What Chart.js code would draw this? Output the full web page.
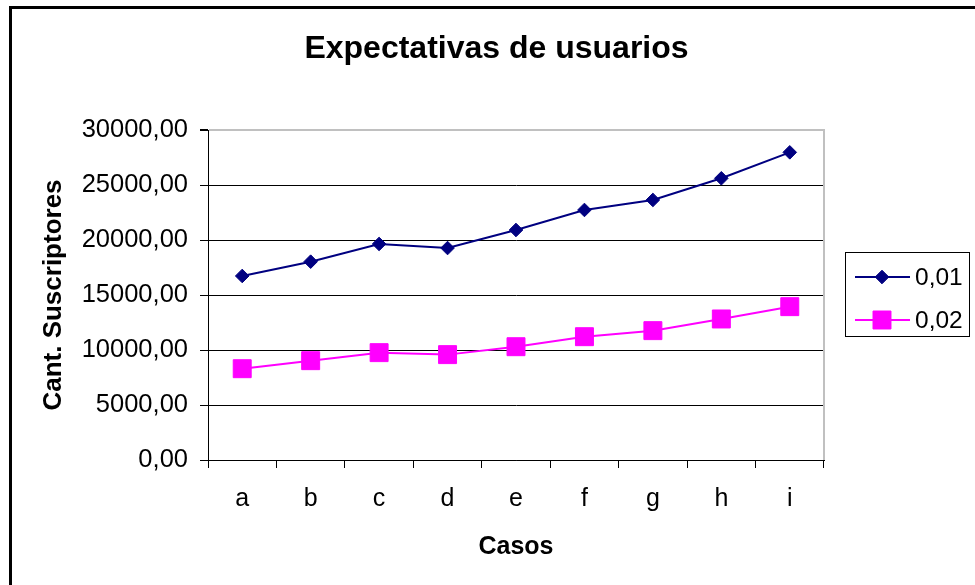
<!DOCTYPE html>
<html><head><meta charset="utf-8">
<script src="https://cdn.jsdelivr.net/npm/chart.js@4.4.0/dist/chart.umd.min.js"></script>
<style>html,body{margin:0;padding:0;background:#fff}#wrap{width:975px;height:585px}</style>
</head><body><div id="wrap"><canvas id="c" width="975" height="585"></canvas></div>
<script>
const chartTitle = 'Expectativas de usuarios';
const xTitle = 'Casos';
const yTitle = 'Cant. Suscriptores';
const categories = ['a','b','c','d','e','f','g','h','i'];
const seriesNames = ['0,01','0,02'];
const series1 = [16730, 18030, 19640, 19270, 20910, 22730, 23640, 25610, 27970];
const series2 = [8300, 9030, 9760, 9580, 10300, 11210, 11760, 12820, 13940];
const yMin = 0, yMax = 30000, yStep = 5000;

const FONT = "'Liberation Sans', Arial, sans-serif";
Chart.defaults.font.family = FONT;
Chart.defaults.color = '#000';

const fmt = v => Number(v).toFixed(2).replace('.', ',');

function drawMarker(ctx, style, x, y, r, color){
  ctx.save();
  ctx.fillStyle = color; ctx.strokeStyle = color; ctx.lineWidth = 1;
  ctx.beginPath();
  if (style === 'rectRot'){
    ctx.moveTo(x - r, y); ctx.lineTo(x, y - r); ctx.lineTo(x + r, y); ctx.lineTo(x, y + r); ctx.closePath();
  } else {
    const s = r * Math.SQRT1_2;
    ctx.rect(x - s, y - s, 2 * s, 2 * s);
  }
  ctx.fill(); ctx.stroke();
  ctx.restore();
}

const decor = {
  id: 'decor',
  beforeDatasetsDraw(chart){
    const a = chart.chartArea, ctx = chart.ctx;
    ctx.save();
    ctx.strokeStyle = '#c0c0c0'; ctx.lineWidth = 2;
    ctx.beginPath(); ctx.moveTo(a.right, a.top - 1); ctx.lineTo(a.right, a.bottom); ctx.stroke();
    ctx.restore();
  },
  afterDraw(chart){
    const ctx = chart.ctx;
    ctx.save();
    ctx.strokeStyle = '#000'; ctx.lineWidth = 3;
    ctx.beginPath(); ctx.moveTo(10.5, 585); ctx.lineTo(10.5, 7.5); ctx.lineTo(975, 7.5); ctx.stroke();
    const lx = 845, ly = 252, lw = 124, lh = 84;
    ctx.lineWidth = 1; ctx.strokeStyle = '#000';
    ctx.strokeRect(lx + 0.5, ly + 0.5, lw, lh);
    const rows = [ly + 25, ly + 68];
    chart.data.datasets.forEach((ds, i) => {
      const y = rows[i];
      ctx.strokeStyle = ds.borderColor; ctx.lineWidth = 2;
      ctx.beginPath(); ctx.moveTo(855, y); ctx.lineTo(910, y); ctx.stroke();
      drawMarker(ctx, ds.pointStyle, 882, y, ds.pointRadius, ds.pointBackgroundColor);
      ctx.fillStyle = '#000'; ctx.font = '24.5px ' + FONT;
      ctx.textBaseline = 'middle'; ctx.textAlign = 'left';
      ctx.fillText(ds.label, 915, y + 1);
    });
    ctx.restore();
  }
};

new Chart(document.getElementById('c'), {
  type: 'line',
  data: {
    labels: categories,
    datasets: [
      { label: seriesNames[0], data: series1, borderColor: '#000080', backgroundColor: '#000080',
        pointBackgroundColor: '#000080', pointBorderColor: '#000080', pointStyle: 'rectRot',
        pointRadius: 6.8, pointHoverRadius: 6.8, borderWidth: 2, pointBorderWidth: 1, tension: 0, yAxisID: 'y' },
      { label: seriesNames[1], data: series2, borderColor: '#FF00FF', backgroundColor: '#FF00FF',
        pointBackgroundColor: '#FF00FF', pointBorderColor: '#FF00FF', pointStyle: 'rect',
        pointRadius: 12.7, pointHoverRadius: 12.7, borderWidth: 2, pointBorderWidth: 1, tension: 0, yAxisID: 'y' }
    ]
  },
  options: {
    responsive: false, animation: false, devicePixelRatio: 1,
    layout: { padding: { left: 18, right: 0, top: 0, bottom: 0 } },
    plugins: {
      legend: { display: false },
      tooltip: { enabled: false },
      title: { display: true, text: chartTitle, color: '#000',
        font: { size: 32, weight: 'bold' }, padding: { top: 30.4, bottom: 61.2 } }
    },
    scales: {
      x: {
        offset: true,
        grid: { display: true, drawOnChartArea: false, drawTicks: true, tickLength: 8, offset: true, color: '#000', tickColor: '#000' },
        border: { display: true, color: '#000', width: 1 },
        ticks: { font: { size: 25 }, color: '#000', padding: 16, maxRotation: 0, autoSkip: false },
        title: { display: true, text: xTitle, font: { size: 25, weight: 'bold' }, color: '#000', padding: { top: 0, bottom: 23 } },
        afterFit(s){ s.height = 125; }
      },
      y: {
        position: 'left', min: yMin, max: yMax,
        grid: { color: c => (c.tick && c.tick.value === yMax) ? '#c0c0c0' : '#000',
                lineWidth: c => (c.tick && c.tick.value === yMax) ? 2 : 1,
                tickColor: '#000', tickLength: 8, drawTicks: true },
        border: { display: true, color: '#000', width: 1 },
        ticks: { stepSize: yStep, font: { size: 25.5 }, color: '#000', padding: 12, callback: v => fmt(v) },
        title: { display: true, text: yTitle, font: { size: 26, weight: 'bold' }, color: '#000', padding: { top: 20, bottom: 0 } },
        afterFit(s){ s.width = 190; }
      },
      yRight: {
        position: 'right', display: true,
        grid: { display: false }, border: { display: false }, ticks: { display: false },
        afterFit(s){ s.width = 151; }
      }
    }
  },
  plugins: [decor]
});
</script>
</body></html>
